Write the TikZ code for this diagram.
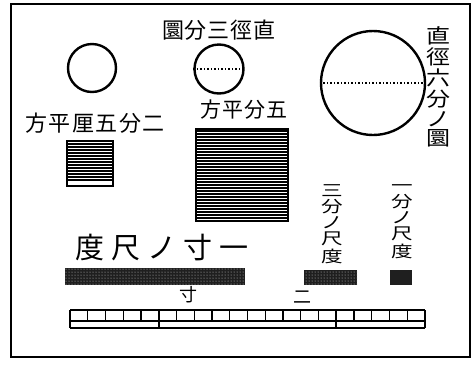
\documentclass[tikz,border=0pt]{standalone}
\usepackage{fontspec}
\newfontfamily\jp{Noto Sans CJK JP}
\usetikzlibrary{patterns,calc}
\tikzset{
  ring/.style={circle, draw, line width=2.4pt, inner sep=0pt},
  dotline/.style={line width=1.6pt, dash pattern=on 1.6pt off 1.9pt},
  hatchbox/.style={draw, line width=1.8pt, inner sep=0pt, anchor=north west},
  hatch/.style={line width=1.1pt},
  band/.style={fill=black!88, inner sep=0pt, anchor=north west},
  lbl/.style={inner sep=0pt, font=\jp},
  vlbl/.style={inner sep=0pt, align=center, anchor=north},
  rul/.style={line width=1.2pt},
}
\begin{document}
\begin{tikzpicture}[x=1pt,y=-1pt]
\useasboundingbox (0,0) rectangle (473,365);
\fill[white] (0,0) rectangle (473,365);
% frame
\draw[line width=1.3pt] (11,4) rectangle (470,357);
% titles
\node[lbl, font=\jp\fontsize{22}{22}\selectfont] (title) at (219,30) {圜\hspace{1pt}分\hspace{1pt}三\hspace{1pt}徑\hspace{1pt}直};
\node[vlbl, font=\jp\fontsize{20}{21}\selectfont] (vt1) at (438,26) {\scalebox{1.2}[1]{\shortstack{直\\徑\\六\\分\\ノ\\圜}}};
% circles
\node[ring, minimum size=48pt] (c1) at (92,68) {};
\node[ring, minimum size=49pt] (c2) at (219,69) {};
\node[ring, minimum size=104pt] (c3) at (373,83) {};
\draw[dotline] (c2.west) -- (c2.east);
\draw[dotline] (c3.west) -- (c3.east);
% square labels
\node[lbl, font=\jp\fontsize{22}{22}\selectfont] (sq1t) at (95,123) {方\hspace{1.5pt}平\hspace{1.5pt}厘\hspace{1.5pt}五\hspace{1.5pt}分\hspace{1.5pt}二};
\node[lbl, font=\jp\fontsize{21}{21}\selectfont] (sq2t) at (244,110) {方\hspace{1pt}平\hspace{1pt}分\hspace{1pt}五};
% squares
\node[hatchbox, minimum width=46pt, minimum height=45pt] (s1) at (66,140) {};
\foreach \yy in {144,147,...,182} \draw[hatch] (66,\yy) -- (112,\yy);
\node[hatchbox, minimum width=92pt, minimum height=92pt] (s2) at (195,128) {};
\foreach \yy in {131,134,...,218} \draw[hatch] (195,\yy) -- (287,\yy);
% scale labels
\node[lbl, font=\jp\fontsize{29}{29}\selectfont] (len1) at (162,248) {度\hspace{7pt}尺\hspace{7pt}ノ\hspace{7pt}寸\hspace{7pt}一};
\node[vlbl, font=\jp\fontsize{16}{16.5}\selectfont] (vt2) at (332,184) {\scalebox{1.35}[1]{\shortstack{三\\分\\ノ\\尺\\度}}};
\node[vlbl, font=\jp\fontsize{16}{16.5}\selectfont] (vt3) at (402,184) {\scalebox{1.35}[1]{\shortstack{一\\分\\ノ\\尺\\度}}};
% bands
\node[band, minimum width=180pt, minimum height=17pt] (b1) at (65,268) {};
\node[band, minimum width=53pt, minimum height=15pt] (b2) at (304,270) {};
\node[band, minimum width=22pt, minimum height=15pt] (b3) at (390,270) {};
\fill[pattern=dots, pattern color=white!80!black] (b1.north west) rectangle (b1.south east);
\fill[pattern=dots, pattern color=white!80!black] (b2.north west) rectangle (b2.south east);
% ruler labels
\node[lbl, font=\jp\fontsize{18}{18}\selectfont] (r1) at (188,295) {寸};
\node[lbl, font=\jp\fontsize{18}{18}\selectfont] (r2) at (302,297) {二};
% ruler
\coordinate (rtl) at (70,310);
\coordinate (rtr) at (425,310);
\coordinate (rml) at (70,321);
\coordinate (rmr) at (425,321);
\coordinate (rbl) at (70,328);
\coordinate (rbr) at (425,328);
\draw[rul] (rtl) -- (rtr);
\draw[rul] (rml) -- (rmr);
\draw[line width=2.2pt] (rbl) -- (rbr);
\foreach \i in {0,...,20} \draw[rul] ($(rtl)+(\i*17.75,0)$) -- ++(0,11);
\foreach \i in {0,5,15,20} \draw[line width=1.6pt] ($(rtl)+(\i*17.75,0)$) -- ++(0,18);
\end{tikzpicture}
\end{document}
